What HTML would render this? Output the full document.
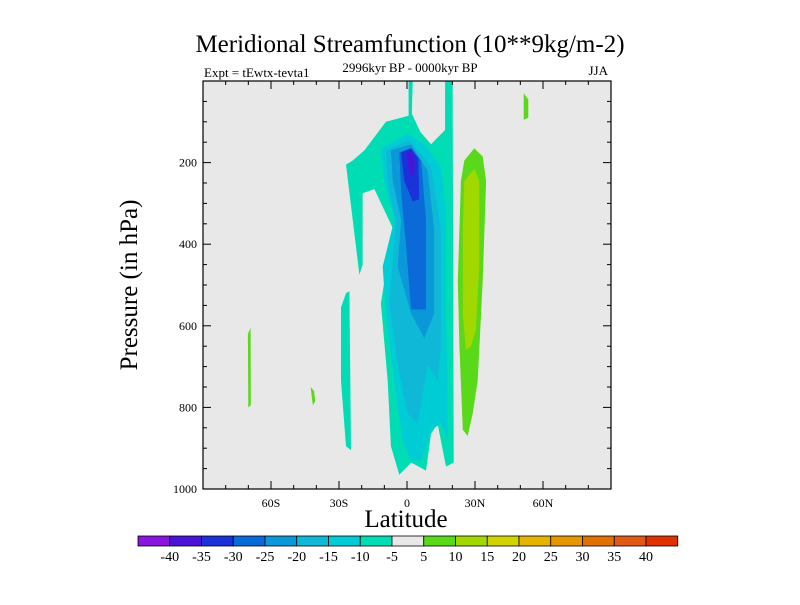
<!DOCTYPE html>
<html><head><meta charset="utf-8">
<style>
body{margin:0;background:#fff;}
svg text{font-family:"Liberation Serif",serif;fill:#000;}
</style></head>
<body>
<svg id="chart" width="800" height="600" xmlns="http://www.w3.org/2000/svg">
<text x="410" y="52" font-size="25" text-anchor="middle">Meridional Streamfunction (10**9kg/m-2)</text>
<text x="204" y="77" font-size="13">Expt = tEwtx-tevta1</text>
<text x="410" y="72" font-size="13" text-anchor="middle">2996kyr BP - 0000kyr BP</text>
<text x="608" y="75" font-size="13" text-anchor="end">JJA</text>
<text x="406" y="527" font-size="25" text-anchor="middle">Latitude</text>
<text transform="translate(137,285) rotate(-90)" font-size="25" text-anchor="middle">Pressure (in hPa)</text>
<g id="plot"></g>
<g id="cbar"></g>
</svg>
<script>
const levelColors=["#8a14e0","#4a14d8","#1a32d8","#0a6ad8","#0a98d8","#10b8d8","#00ccd6","#00dcb4","#e8e8e8","#5ad81a","#a0d800","#d2d200","#e6b400","#e69600","#e07000","#e05a14","#e03200"];
const levelLabels=["-40","-35","-30","-25","-20","-15","-10","-5","5","10","15","20","25","30","35","40"];
const xTickLats=[-60,-30,0,30,60];
const xTickLabels=["60S","30S","0","30N","60N"];
const yTickVals=[200,400,600,800,1000];
const regionLevels=[7,7,6,5,4,3,2,1,9,10,9,9,9];
const regionNames=["neg5-main","neg5-left-strip","neg10","neg15","neg20","neg25","neg30","neg35","pos5-main","pos10-main","pos5-top-right","pos5-left-strip","pos5-small-blob"];
const regions=[
[[0.7,0],[2.5,0],[2.1,80],[5.9,125],[10.6,155],[16.8,120],[16.8,0],[20.1,0],[20.6,935],[17.2,945],[13.5,840],[10.6,865],[8.4,955],[1.8,935],[-3.4,965],[-7.1,895],[-8.5,735],[-11.5,545],[-6.3,360],[-14.4,265],[-19.6,275],[-19.6,450],[-21,475],[-26.9,205],[-24,195],[-18.8,170],[-9.3,100],[0.7,85]],
[[-26.9,520],[-25.4,515],[-24.7,905],[-26.9,895],[-29.1,735],[-29.1,555]],
[[-11.5,165],[0.3,130],[7.6,155],[15,210],[17.2,325],[17.2,570],[17.9,775],[17.9,880],[15,840],[10.6,855],[6.2,930],[1.8,930],[-1.9,880],[-5.6,735],[-9.3,570],[-10.7,455],[-5.6,340],[-10,245]],
[[-9.3,170],[1,145],[10.6,210],[15,365],[15,650],[13.5,735],[9.1,695],[4.7,840],[0.3,815],[-4.1,695],[-7.8,545],[-4.9,350],[-8.5,245]],
[[-7.1,170],[1.8,155],[9.1,220],[12,365],[12,570],[7.6,630],[1.8,570],[-4.1,455],[-2.6,340],[-6.3,245]],
[[-3.4,175],[1.8,165],[6.2,195],[8.4,340],[8.4,560],[1.8,560],[-0.4,405],[-2.6,270]],
[[-2.6,175],[1.8,165],[5,190],[5.4,290],[2.5,295],[-1.2,245]],
[[0,175],[2.2,170],[3.5,200],[2.9,235],[1.2,230]],
[[25.3,195],[29.7,165],[33.4,185],[34.9,245],[33.4,490],[31.2,735],[29,815],[26.8,870],[24.6,855],[23.1,650],[22.4,490],[23.8,245]],
[[25.3,245],[29.7,215],[31.9,245],[31.9,450],[30.4,610],[28.2,650],[26,660],[24.6,570],[24.6,365]],
[[51.5,30],[53.5,45],[53.5,90],[51.5,95]],
[[-70.2,620],[-69,605],[-68.9,795],[-70,800]],
[[-42.5,750],[-41,760],[-40.5,785],[-41.5,795],[-42,775]]
];
const NS="http://www.w3.org/2000/svg";
const L=203,R=611,T=81,B=489;
const xs=lat=>L+(lat+90)/180*(R-L);
const ys=p=>T+p/1000*(B-T);
const plot=document.getElementById('plot');
function mk(tag,attrs,parent){const e=document.createElementNS(NS,tag);for(const k in attrs)e.setAttribute(k,attrs[k]);parent.appendChild(e);return e;}
const bg=mk('rect',{x:L,y:T,width:R-L,height:B-T,fill:"#e8e8e8"},plot);


regions.forEach((pts,i)=>{
  const p=mk('polygon',{points:pts.map(q=>xs(q[0]).toFixed(1)+","+ys(q[1]).toFixed(1)).join(" "),fill:levelColors[regionLevels[i]]},plot);
  
  
});
const frame=mk('rect',{x:L,y:T,width:R-L,height:B-T,fill:"none",stroke:"#000","stroke-width":1.2},plot);


for(let lat=-80;lat<=80;lat+=10){
  const major=xTickLats.includes(lat);const len=major?8:4;
  const t1=mk('line',{x1:xs(lat),x2:xs(lat),y1:B,y2:B-len,stroke:"#000"},plot);
  
  
  const t2=mk('line',{x1:xs(lat),x2:xs(lat),y1:T,y2:T+len,stroke:"#000"},plot);
  
  
}
xTickLats.forEach((lat,i)=>{
  const t=mk('text',{x:xs(lat),y:B+18,"font-size":12,"text-anchor":"middle"},plot);t.textContent=xTickLabels[i];
  
  
});
for(let p=50;p<1000;p+=50){
  const major=yTickVals.includes(p);const len=major?8:4;
  const t1=mk('line',{x1:L,x2:L+len,y1:ys(p),y2:ys(p),stroke:"#000"},plot);
  
  
  const t2=mk('line',{x1:R,x2:R-len,y1:ys(p),y2:ys(p),stroke:"#000"},plot);
  
  
}
yTickVals.forEach(v=>{
  const t=mk('text',{x:L-6,y:ys(v)+4,"font-size":12,"text-anchor":"end"},plot);t.textContent=v;
  
  
});
const cb=document.getElementById('cbar');
const cx0=138,cw=31.75,cy=536,ch=10;
levelColors.forEach((c,i)=>{
  const r=mk('rect',{x:cx0+i*cw,y:cy,width:cw,height:ch,fill:c,stroke:"#000","stroke-width":0.8},cb);
  
  
});
levelLabels.forEach((s,i)=>{
  const t=mk('text',{x:cx0+(i+1)*cw,y:cy+ch+15,"font-size":14,"text-anchor":"middle"},cb);t.textContent=s;
  
  
});
</script>
</body></html>
